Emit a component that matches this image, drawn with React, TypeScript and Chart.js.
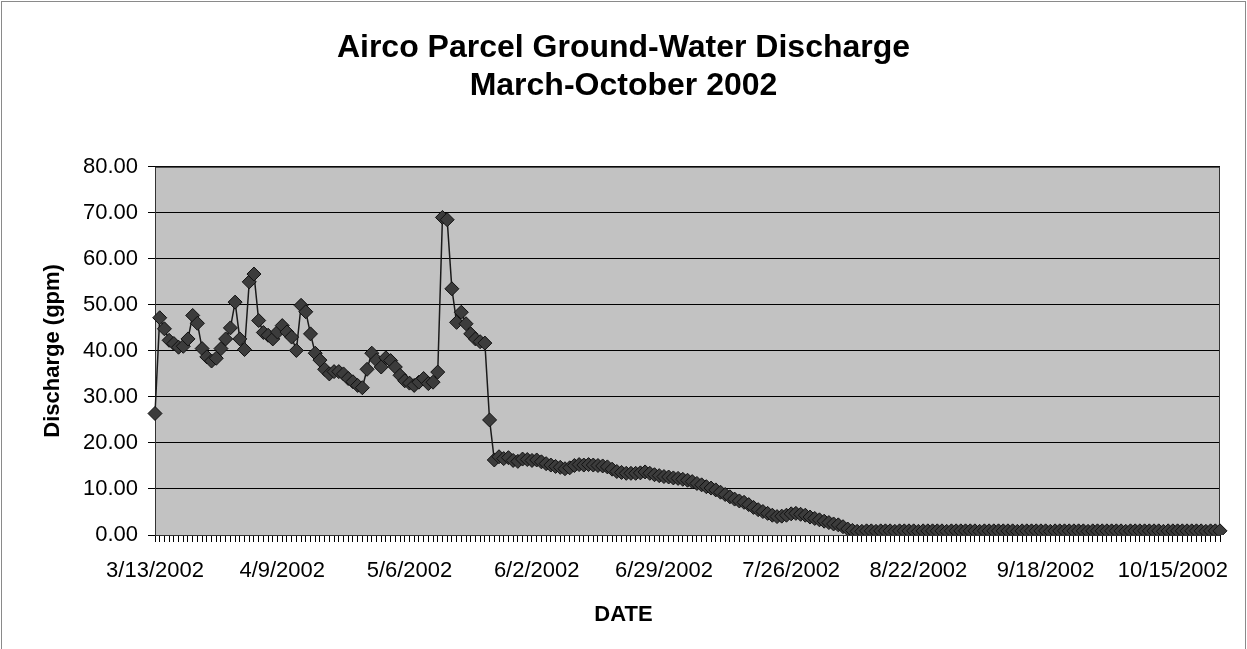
import React, { useEffect, useRef } from 'react';
import { Chart, registerables } from 'chart.js';

Chart.register(...registerables);

const TITLE_LINES = ['Airco Parcel Ground-Water Discharge', 'March-October 2002'];
const Y_TITLE = 'Discharge (gpm)';
const X_TITLE = 'DATE';
const TICK_LABELS = ['3/13/2002', '4/9/2002', '5/6/2002', '6/2/2002', '6/29/2002', '7/26/2002', '8/22/2002', '9/18/2002', '10/15/2002'];
const TICK_EVERY_DAYS = 27;
const Y_TICKS = [0, 10, 20, 30, 40, 50, 60, 70, 80];

// Daily discharge (gpm), one value per day starting 3/13/2002
const DISCHARGE = [
  26.4, 47.2, 44.8, 42.3, 41.6, 40.8, 41.0, 42.6, 47.7, 46.0,
  40.5, 38.7, 37.8, 38.4, 40.5, 42.6, 45.0, 50.6, 42.6, 40.3,
  55.0, 56.7, 46.6, 44.0, 43.4, 42.6, 44.1, 45.5, 44.1, 43.0,
  40.1, 49.9, 48.5, 43.7, 39.5, 38.0, 36.0, 35.0, 35.5, 35.5,
  35.0, 34.0, 33.3, 32.5, 32.0, 36.0, 39.5, 38.0, 36.5, 38.5,
  37.9, 36.5, 34.7, 33.5, 33.0, 32.5, 33.2, 34.0, 32.9, 33.2,
  35.4, 69.0, 68.5, 53.5, 46.2, 48.4, 45.9, 43.7, 42.6, 42.0,
  41.7, 25.0, 16.3, 17.0, 16.6, 16.8, 16.2, 16.0, 16.5, 16.4,
  16.2, 16.3, 15.9, 15.5, 15.2, 14.9, 14.7, 14.4, 14.6, 15.1,
  15.3, 15.2, 15.3, 15.2, 15.1, 15.0, 14.8, 14.3, 13.8, 13.6,
  13.4, 13.4, 13.4, 13.5, 13.7, 13.4, 13.1, 12.9, 12.7, 12.6,
  12.4, 12.3, 12.1, 11.9, 11.6, 11.2, 10.9, 10.5, 10.2, 9.8,
  9.3, 8.8, 8.3, 7.8, 7.4, 7.1, 6.6, 6.0, 5.5, 5.1,
  4.7, 4.3, 4.0, 4.1, 4.3, 4.6, 4.7, 4.5, 4.3, 3.9,
  3.6, 3.3, 3.0, 2.7, 2.4, 2.2, 1.8, 1.3, 1.0, 0.8,
  0.8, 0.9, 0.9, 0.8, 0.9, 0.9, 0.9, 0.8, 0.9, 0.9,
  0.9, 0.9, 0.8, 0.9, 0.9, 0.9, 0.9, 0.9, 0.8, 0.9,
  0.9, 0.9, 0.9, 0.9, 0.9, 0.8, 0.9, 0.9, 0.9, 0.9,
  0.9, 0.9, 0.9, 0.8, 0.9, 0.9, 0.9, 0.9, 0.9, 0.9,
  0.8, 0.9, 0.9, 0.9, 0.9, 0.9, 0.9, 0.9, 0.8, 0.9,
  0.9, 0.9, 0.9, 0.9, 0.9, 0.9, 0.8, 0.9, 0.9, 0.9,
  0.9, 0.9, 0.9, 0.9, 0.8, 0.9, 0.9, 0.9, 0.9, 0.9,
  0.9, 0.9, 0.9, 0.8, 0.9, 0.9, 0.9,
];

function buildDates(n: number): string[] {
  const out: string[] = [];
  for (let i = 0; i < n; i++) {
    const dt = new Date(2002, 2, 13 + i);
    out.push(`${dt.getMonth() + 1}/${dt.getDate()}/${dt.getFullYear()}`);
  }
  return out;
}
const DATES = buildDates(DISCHARGE.length);

const FONT = "'Liberation Sans', Arial, Helvetica, sans-serif";

const plotArea = {
  id: 'plotArea',
  beforeDraw(chart: any) {
    const { ctx, chartArea: a } = chart;
    ctx.save();
    ctx.fillStyle = '#c2c2c2';
    ctx.fillRect(a.left, a.top, a.right - a.left, a.bottom - a.top);
    ctx.restore();
  },
  beforeDatasetsDraw(chart: any) {
    const { ctx, chartArea: a } = chart;
    ctx.save();
    ctx.strokeStyle = '#333';
    ctx.lineWidth = 1;
    ctx.strokeRect(a.left + 0.5, a.top + 0.5, a.right - a.left - 1, a.bottom - a.top);
    ctx.restore();
  },
};

export default function App() {
  const ref = useRef<HTMLCanvasElement | null>(null);

  useEffect(() => {
    if (!ref.current) return;
    Chart.defaults.font.family = FONT;
    const chart = new Chart(ref.current, {
      type: 'line',
      data: {
        labels: DATES,
        datasets: [
          {
            label: 'Discharge',
            data: DISCHARGE,
            borderColor: '#1a1a1a',
            borderWidth: 1.5,
            pointStyle: 'rectRot',
            pointRadius: 7,
            pointBackgroundColor: '#3c3c3c',
            pointBorderColor: '#111',
            pointBorderWidth: 1,
            tension: 0,
          },
        ],
      },
      options: {
        responsive: false,
        animation: false,
        layout: { padding: { left: 0, right: 0, top: 0, bottom: 0 } },
        plugins: {
          legend: { display: false },
          tooltip: { enabled: false },
          title: {
            display: true,
            text: TITLE_LINES,
            color: '#000',
            font: { family: FONT, size: 32, weight: 'bold', lineHeight: 1.2 },
            padding: { top: 29, bottom: 61 },
          },
          subtitle: {
            display: true,
            position: 'bottom',
            text: X_TITLE,
            color: '#000',
            font: { family: FONT, size: 22, weight: 'bold', lineHeight: 1.2 },
            padding: { top: 0, bottom: 21 },
          },
        },
        scales: {
          x: {
            type: 'category',
            grid: {
              display: true,
              drawOnChartArea: false,
              drawTicks: true,
              tickLength: 7,
              color: '#000',
              lineWidth: 1,
            },
            border: { display: true, color: '#000', width: 1 },
            ticks: {
              autoSkip: false,
              maxRotation: 0,
              minRotation: 0,
              padding: 16,
              color: '#000',
              font: { family: FONT, size: 22 },
              callback: (_v: any, i: number) =>
                i % TICK_EVERY_DAYS === 0 ? TICK_LABELS[i / TICK_EVERY_DAYS] ?? '' : '',
            },
            afterFit: (s: any) => {
              s.height = 66.6;
            },
          },
          y: {
            type: 'linear',
            min: 0,
            max: 80,
            afterBuildTicks: (s: any) => {
              s.ticks = Y_TICKS.map((v) => ({ value: v }));
            },
            grid: {
              color: '#000',
              lineWidth: 1,
              drawTicks: true,
              tickLength: 7,
            },
            border: { display: true, color: '#000', width: 1 },
            ticks: {
              padding: 10,
              color: '#000',
              font: { family: FONT, size: 22 },
              callback: (v: any) => Number(v).toFixed(2),
            },
            title: {
              display: true,
              text: Y_TITLE,
              color: '#000',
              font: { family: FONT, size: 22, weight: 'bold' },
              padding: { top: 40, bottom: 0 },
            },
            afterFit: (s: any) => {
              s.width = 155;
            },
          },
          yRight: {
            type: 'linear',
            position: 'right',
            min: 0,
            max: 80,
            grid: { display: false, drawTicks: false },
            border: { display: false },
            ticks: { display: false },
            afterFit: (s: any) => {
              s.width = 27;
            },
          },
        },
      },
      plugins: [plotArea],
    });
    return () => chart.destroy();
  }, []);

  return (
    <div style={{ position: 'fixed', left: 0, top: 0, width: 1247, height: 649, background: '#fff' }}>
      <canvas ref={ref} width={1247} height={649} style={{ position: 'absolute', left: 0, top: 0 }} />
      <div
        style={{
          position: 'absolute',
          left: 1,
          top: 1,
          width: 1243,
          height: 660,
          border: '1px solid #8a8a8a',
          pointerEvents: 'none',
        }}
      />
    </div>
  );
}
